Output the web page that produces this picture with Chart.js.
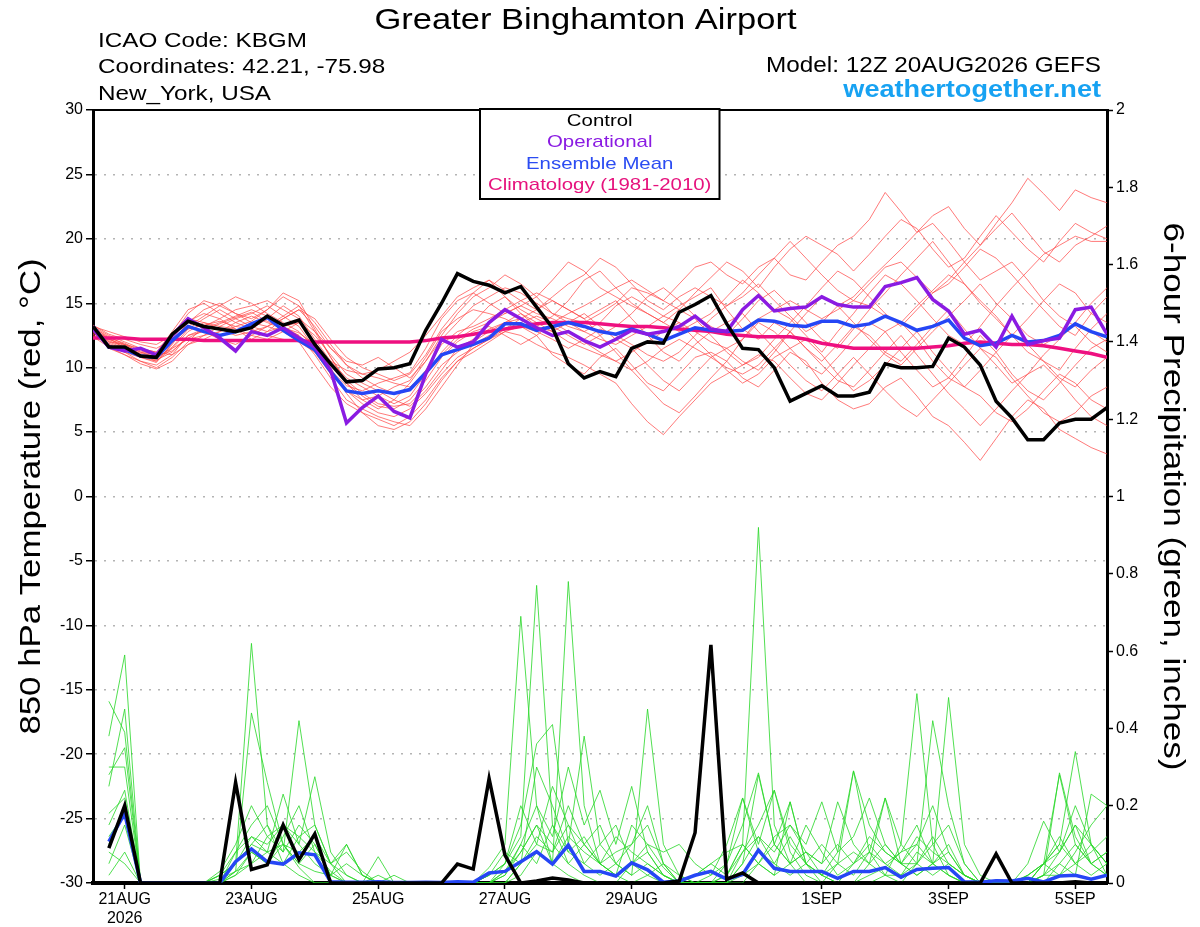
<!DOCTYPE html>
<html>
<head>
<meta charset="utf-8">
<title>Greater Binghamton Airport - GEFS</title>
<script src="https://cdn.jsdelivr.net/npm/chart.js@4.4.1/dist/chart.umd.min.js"></script>
<style>
    html, body { margin: 0; padding: 0; background: #fff; }
    #wrap { width: 1200px; height: 927px; }
</style>
</head>
<body>
<div id="wrap"><canvas id="gefsChart"></canvas></div>
<script>
// Forecast hours of the 12Z 20AUG2026 run, every 6h out to 384h
const hours = Array.from({ length: 65 }, (_, i) => i * 6);

// Date ticks (00Z of each labelled day)
const tickHours = [12, 60, 108, 156, 204, 276, 324, 372];
const tickLabels = [["21AUG", "2026"], "23AUG", "25AUG", "27AUG", "29AUG", "1SEP", "3SEP", "5SEP"];

// 850 hPa temperature (C)
const controlTemp = [
    13.2, 11.6, 11.6, 10.9, 10.8, 12.6, 13.6, 13.2, 13.0, 12.8, 13.1, 14.0, 13.3,
    13.7, 11.8, 10.3, 8.9, 9.0, 9.9, 10.0, 10.3, 12.9, 15.0, 17.3, 16.7, 16.4,
    15.8, 16.3, 14.7, 13.1, 10.3, 9.2, 9.7, 9.3, 11.5, 12.0, 11.9, 14.3, 14.9,
    15.6, 13.4, 11.5, 11.4, 10.0, 7.4, 8.0, 8.6, 7.8, 7.8, 8.1, 10.3, 10.0,
    10.0, 10.1, 12.3, 11.6, 10.2, 7.4, 6.1, 4.4, 4.4, 5.7, 6.0, 6.0, 6.9
];
const operationalTemp = [
    13.0, 11.6, 11.3, 11.5, 11.0, 12.5, 13.8, 13.1, 12.3, 11.3, 12.8, 12.5, 13.1,
    12.3, 11.6, 9.8, 5.7, 6.9, 7.8, 6.6, 6.1, 9.5, 12.2, 11.6, 12.0, 13.5,
    14.5, 13.8, 13.1, 12.5, 12.8, 12.1, 11.6, 12.2, 12.9, 12.6, 12.8, 13.2, 14.0,
    13.0, 12.8, 14.5, 15.6, 14.4, 14.6, 14.7, 15.5, 14.9, 14.7, 14.7, 16.3, 16.6,
    17.0, 15.3, 14.4, 12.6, 12.9, 11.6, 14.0, 11.8, 12.1, 12.3, 14.5, 14.7, 12.6
];
const meanTemp = [
    13.2, 11.6, 11.4, 10.9, 10.8, 12.1, 13.2, 12.8, 12.5, 12.8, 13.4, 13.9, 12.9,
    12.1, 11.4, 9.7, 8.2, 8.0, 8.2, 8.0, 8.3, 9.6, 11.0, 11.4, 11.8, 12.3,
    13.4, 13.4, 12.9, 13.2, 13.5, 13.2, 12.8, 12.6, 13.0, 12.6, 12.1, 12.6, 13.1,
    12.9, 12.8, 12.9, 13.7, 13.6, 13.3, 13.2, 13.6, 13.6, 13.2, 13.4, 14.0, 13.5,
    12.9, 13.2, 13.7, 12.3, 11.7, 11.9, 12.5, 12.0, 12.1, 12.5, 13.4, 12.8, 12.4
];
const climoTemp = [
    12.3, 12.3, 12.3, 12.2, 12.2, 12.2, 12.2, 12.1, 12.1, 12.1, 12.1, 12.1, 12.1,
    12.1, 12.0, 12.0, 12.0, 12.0, 12.0, 12.0, 12.0, 12.1, 12.3, 12.4, 12.6, 12.8,
    13.0, 13.2, 13.4, 13.5, 13.5, 13.5, 13.4, 13.3, 13.2, 13.2, 13.1, 13.0, 12.9,
    12.8, 12.6, 12.5, 12.4, 12.4, 12.4, 12.2, 11.9, 11.7, 11.5, 11.5, 11.5, 11.5,
    11.5, 11.6, 11.7, 11.9, 12.0, 11.9, 11.8, 11.8, 11.7, 11.5, 11.3, 11.1, 10.8
];

// Ensemble member temperatures
const mem01T = [
    13.0, 12.2, 11.8, 11.2, 11.0, 12.2, 13.8, 13.5, 13.2, 13.8, 14.2, 14.8, 14.0,
    13.2, 11.5, 9.8, 8.6, 8.2, 8.8, 9.2, 9.6, 11.5, 13.8, 15.2, 15.8, 15.0,
    14.2, 14.8, 15.5, 14.2, 13.8, 13.5, 14.2, 15.0, 16.2, 15.8, 15.2, 16.5, 17.8,
    18.2, 17.2, 16.5, 17.8, 18.5, 17.2, 16.8, 18.2, 19.5, 20.2, 21.5, 23.6, 22.1,
    20.5, 21.8, 22.5, 20.8, 19.5, 21.2, 22.8, 24.7, 23.5, 22.2, 23.8, 23.2, 22.8
];
const mem02T = [
    12.8, 11.5, 11.0, 10.5, 10.2, 11.0, 12.5, 12.8, 12.2, 11.8, 12.5, 13.2, 12.8,
    12.0, 10.2, 8.5, 7.2, 6.5, 6.0, 5.5, 6.2, 7.5, 9.2, 10.5, 11.2, 12.0,
    12.8, 13.2, 12.5, 11.0, 10.2, 9.5, 10.8, 11.5, 10.2, 8.8, 8.2, 9.5, 10.8,
    11.2, 10.5, 9.2, 8.5, 9.8, 11.2, 10.5, 8.8, 7.5, 6.8, 7.2, 8.5, 9.2,
    7.8, 6.2, 5.5, 4.2, 2.8, 4.5, 6.2, 7.5, 6.8, 5.2, 4.5, 3.8, 3.3
];
const mem03T = [
    13.2, 12.5, 12.0, 11.5, 11.2, 12.8, 14.5, 15.0, 14.2, 13.5, 13.0, 13.8, 14.8,
    14.0, 12.2, 10.5, 9.2, 8.5, 7.8, 7.2, 7.8, 9.5, 11.2, 12.5, 13.5, 14.8,
    15.5, 14.2, 13.2, 14.0, 15.2, 16.8, 17.5, 16.2, 15.0, 14.2, 13.5, 12.8, 13.5,
    14.2, 15.5, 16.8, 15.8, 14.5, 13.8, 12.5, 11.2, 12.8, 14.2, 15.8, 17.2, 16.5,
    15.2, 13.8, 12.5, 11.8, 13.2, 14.8, 16.2, 17.5, 18.8, 19.5, 20.2, 19.8, 19.8
];
const mem04T = [
    12.5, 11.8, 11.2, 10.8, 10.5, 11.5, 12.2, 12.5, 12.8, 13.5, 14.0, 13.5, 13.0,
    12.5, 11.0, 9.2, 7.5, 6.8, 6.2, 5.8, 5.5, 6.8, 8.5, 10.2, 11.8, 12.5,
    13.0, 13.8, 14.5, 15.2, 14.5, 13.8, 12.5, 11.2, 9.8, 8.5, 7.2, 6.5, 7.8,
    9.2, 10.5, 12.2, 13.5, 12.8, 11.5, 10.2, 9.5, 10.8, 12.2, 13.5, 12.8, 11.2,
    9.8, 8.5, 9.2, 10.8, 12.5, 11.2, 9.5, 8.2, 7.5, 8.8, 10.2, 11.5, 12.2
];
const mem05T = [
    13.0, 12.0, 11.5, 11.0, 10.5, 11.8, 13.5, 14.5, 15.0, 14.2, 13.5, 13.2, 13.8,
    14.5, 13.2, 11.5, 10.2, 9.5, 9.8, 10.5, 11.2, 12.5, 14.0, 15.5, 16.2, 16.8,
    15.5, 14.5, 13.8, 13.2, 12.5, 11.8, 12.5, 13.2, 14.2, 15.5, 16.2, 15.2, 14.0,
    13.2, 12.5, 13.8, 15.2, 16.0, 14.8, 13.5, 12.2, 11.5, 13.0, 14.5, 15.8, 17.2,
    18.5, 19.8, 18.2, 16.5, 15.2, 14.0, 12.5, 11.2, 10.5, 9.8, 11.5, 13.0, 14.2
];
const mem06T = [
    12.8, 12.0, 11.8, 11.5, 11.2, 11.0, 11.8, 12.5, 13.2, 13.0, 12.5, 12.2, 12.8,
    13.5, 12.5, 11.0, 9.5, 8.8, 8.2, 7.5, 7.0, 8.2, 9.8, 11.5, 12.2, 13.0,
    13.5, 13.8, 13.2, 12.8, 13.5, 14.2, 13.2, 12.2, 11.5, 10.2, 9.0, 8.2, 9.5,
    10.8, 11.5, 10.5, 9.8, 11.2, 12.8, 14.2, 15.5, 14.8, 13.5, 12.2, 11.0, 10.2,
    11.5, 12.8, 14.0, 15.2, 16.5, 15.0, 13.8, 12.5, 11.8, 12.5, 13.5, 12.8, 12.0
];
const mem07T = [
    13.3, 12.6, 12.2, 11.8, 11.5, 12.2, 13.2, 14.0, 14.8, 15.5, 15.0, 14.2, 13.5,
    12.8, 11.5, 9.8, 8.2, 7.2, 6.5, 6.2, 6.8, 8.0, 9.5, 10.8, 11.5, 12.2,
    12.8, 12.5, 11.8, 11.2, 10.8, 10.2, 9.5, 8.8, 7.2, 5.8, 4.8, 6.2, 7.5,
    8.8, 9.5, 10.2, 11.0, 10.5, 9.2, 8.0, 7.5, 8.8, 10.2, 11.5, 12.8, 13.5,
    12.2, 10.5, 9.2, 8.5, 7.8, 6.5, 5.8, 6.8, 8.2, 9.5, 8.8, 7.5, 6.8
];
const mem08T = [
    12.6, 11.8, 11.2, 10.5, 10.0, 10.8, 12.0, 13.2, 13.8, 14.5, 14.8, 15.2, 14.5,
    13.8, 12.8, 11.5, 10.5, 10.2, 10.8, 10.0, 9.2, 10.5, 12.5, 14.2, 15.5, 16.2,
    17.2, 16.5, 15.5, 16.8, 18.2, 17.5, 16.2, 15.5, 14.8, 14.2, 13.5, 14.5, 15.8,
    17.0, 18.2, 17.5, 16.2, 17.8, 19.2, 20.2, 19.5, 18.8, 17.5, 18.8, 20.2, 21.5,
    20.8, 19.2, 17.8, 18.5, 20.2, 21.8, 20.5, 19.2, 18.2, 19.8, 21.2, 20.5, 20.0
];
const mem09T = [
    13.1, 12.4, 11.8, 11.2, 10.8, 11.5, 12.8, 13.5, 13.0, 12.5, 12.8, 13.2, 14.0,
    14.8, 13.5, 11.8, 10.2, 9.2, 8.5, 8.0, 8.2, 9.8, 11.8, 12.8, 13.2, 13.8,
    14.5, 15.2, 15.8, 15.2, 14.5, 13.8, 14.5, 15.2, 13.8, 12.5, 11.2, 10.5, 11.8,
    12.8, 13.5, 14.2, 12.8, 11.5, 10.2, 9.0, 8.2, 9.5, 10.8, 9.5, 8.2, 7.0,
    6.2, 7.5, 8.8, 10.2, 11.5, 10.8, 9.2, 7.8, 6.5, 5.8, 6.5, 7.8, 8.5
];
const mem10T = [
    12.9, 12.3, 11.9, 11.3, 11.0, 12.0, 13.0, 13.8, 14.5, 13.8, 13.2, 12.8, 13.2,
    13.5, 12.0, 10.2, 8.8, 7.8, 7.0, 6.8, 7.5, 9.0, 10.8, 12.0, 12.8, 13.2,
    12.5, 11.8, 12.5, 13.5, 14.2, 14.8, 15.5, 16.2, 16.8, 16.0, 15.2, 14.5, 13.8,
    12.5, 11.2, 10.2, 10.8, 12.2, 13.5, 14.8, 16.2, 17.5, 16.8, 15.5, 14.2, 13.2,
    14.5, 15.8, 16.5, 17.8, 19.2, 18.5, 17.2, 15.8, 14.5, 13.2, 12.5, 14.2, 15.5
];
const mem11T = [
    12.7, 11.9, 11.4, 10.9, 10.6, 11.2, 12.5, 13.0, 13.5, 14.0, 14.5, 14.0, 13.2,
    12.5, 11.2, 9.5, 8.2, 7.5, 7.8, 8.5, 9.0, 10.8, 12.8, 13.8, 14.5, 14.2,
    13.8, 13.2, 12.8, 12.2, 11.5, 12.2, 13.0, 12.5, 11.8, 11.0, 10.5, 11.2, 12.5,
    13.8, 14.8, 15.5, 16.5, 15.2, 14.0, 12.8, 13.5, 14.8, 15.5, 16.8, 18.0, 19.2,
    20.5, 21.2, 19.8, 18.2, 16.8, 17.5, 18.2, 16.8, 15.2, 14.0, 13.2, 12.0, 11.2
];
const mem12T = [
    13.0, 12.1, 11.6, 11.0, 10.7, 11.6, 13.0, 13.3, 13.6, 13.2, 13.6, 14.5, 15.5,
    14.8, 12.8, 10.8, 9.0, 8.0, 7.2, 7.0, 7.2, 8.5, 10.2, 11.2, 12.0, 12.8,
    13.5, 14.2, 13.5, 12.8, 12.0, 11.5, 11.0, 10.5, 11.2, 12.0, 12.8, 13.5, 12.2,
    11.0, 9.8, 8.8, 9.5, 10.8, 11.5, 12.2, 11.0, 9.5, 8.2, 9.0, 10.2, 11.5,
    12.8, 11.2, 9.8, 8.5, 9.8, 11.2, 12.5, 11.8, 10.5, 9.2, 8.5, 9.8, 10.8
];
const mem13T = [
    12.4, 11.6, 11.0, 10.3, 9.9, 10.5, 11.8, 12.2, 12.8, 13.2, 13.0, 12.5, 12.2,
    12.0, 11.2, 10.5, 9.8, 9.5, 9.2, 8.8, 8.5, 9.5, 11.0, 12.2, 13.0, 13.5,
    14.2, 14.8, 14.2, 13.8, 13.2, 12.8, 12.2, 11.8, 12.5, 13.2, 14.0, 13.5, 12.8,
    12.0, 11.5, 12.2, 13.8, 14.5, 15.2, 14.5, 13.8, 14.5, 15.2, 14.8, 14.0, 13.5,
    14.8, 16.0, 17.2, 16.5, 15.0, 13.8, 12.5, 13.8, 15.2, 16.5, 15.8, 14.2, 13.5
];
const mem14T = [
    13.2, 12.8, 12.4, 12.0, 11.8, 12.5, 14.2, 15.2, 14.8, 14.2, 13.8, 14.5, 15.8,
    15.2, 13.0, 10.8, 8.8, 7.5, 6.8, 7.5, 8.8, 10.5, 12.2, 13.5, 14.8, 15.5,
    16.2, 15.8, 15.0, 14.2, 13.5, 12.8, 13.5, 14.8, 15.5, 14.8, 14.0, 14.8, 15.5,
    16.2, 14.5, 13.0, 12.2, 13.5, 12.8, 11.5, 10.5, 11.8, 13.2, 12.5, 11.2, 10.5,
    11.8, 13.2, 14.5, 13.0, 11.5, 10.2, 8.8, 9.5, 11.0, 12.2, 13.5, 15.0, 16.2
];
const mem15T = [
    12.9, 12.2, 11.7, 11.1, 10.9, 11.3, 12.3, 12.9, 13.4, 13.9, 14.3, 13.6, 13.1,
    12.7, 11.8, 10.0, 8.0, 6.5, 5.5, 5.2, 5.8, 7.2, 9.0, 10.5, 11.5, 12.2,
    13.0, 13.5, 14.0, 13.5, 12.8, 12.0, 11.2, 10.5, 9.8, 10.5, 11.5, 12.2, 11.5,
    10.8, 10.0, 9.5, 10.2, 11.5, 12.8, 11.5, 10.2, 9.0, 8.5, 9.8, 11.2, 12.5,
    11.0, 9.5, 8.0, 6.8, 5.5, 6.8, 8.2, 9.5, 10.2, 9.0, 7.5, 6.2, 5.5
];
const mem16T = [
    13.1, 12.3, 11.5, 10.8, 10.4, 11.9, 13.6, 14.2, 13.8, 13.0, 12.2, 12.8, 13.8,
    14.5, 13.8, 12.2, 10.8, 10.0, 9.5, 9.0, 9.5, 11.0, 13.0, 14.5, 15.8, 16.8,
    16.0, 15.2, 14.5, 15.5, 16.5, 17.2, 18.5, 17.8, 16.5, 15.2, 14.5, 15.5, 16.2,
    15.5, 14.8, 15.8, 17.2, 18.5, 19.8, 18.5, 17.2, 16.0, 15.2, 16.5, 17.8, 18.2,
    17.0, 15.8, 16.8, 18.2, 19.5, 20.8, 22.0, 20.5, 19.0, 18.2, 19.5, 20.2, 21.0
];
const tempMembers = [mem01T, mem02T, mem03T, mem04T, mem05T, mem06T, mem07T, mem08T,
    mem09T, mem10T, mem11T, mem12T, mem13T, mem14T, mem15T, mem16T];

// 6-hour precipitation (inches), no value at the analysis time
const controlPrecip = [
    null, 0.09, 0.20, 0, 0, 0, 0, 0, 0, 0.26, 0.035, 0.047, 0.15,
    0.06, 0.127, 0, 0, 0, 0, 0, 0, 0, 0, 0.049, 0.036, 0.27,
    0.072, 0, 0.005, 0.013, 0.008, 0, 0, 0, 0, 0, 0, 0.005, 0.13,
    0.616, 0.01, 0.026, 0, 0, 0, 0, 0, 0, 0, 0, 0, 0,
    0, 0, 0, 0, 0, 0.075, 0, 0, 0, 0, 0.003, 0, 0
];
const meanPrecip = [
    null, 0.107, 0.18, 0, 0, 0, 0, 0, 0, 0.055, 0.088, 0.055, 0.049,
    0.078, 0.073, 0.003, 0.002, 0.002, 0.003, 0.001, 0.001, 0.002, 0.001, 0.003, 0.002, 0.026,
    0.03, 0.055, 0.081, 0.049, 0.098, 0.03, 0.03, 0.018, 0.052, 0.034, 0.002, 0.005, 0.02,
    0.03, 0.01, 0.022, 0.085, 0.038, 0.03, 0.03, 0.03, 0.012, 0.03, 0.03, 0.04, 0.015,
    0.035, 0.038, 0.04, 0.003, 0.002, 0.006, 0.005, 0.012, 0.003, 0.018, 0.02, 0.01, 0.02
];

// Ensemble member precipitation
const mem01P = [
    null, 0.38, 0.59, 0, 0, 0, 0, 0, 0.02, 0.05, 0.62, 0.15, 0.05,
    0.02, 0, 0, 0, 0, 0, 0, 0, 0, 0, 0, 0, 0.04,
    0.10, 0.69, 0.20, 0.05, 0.02, 0, 0, 0, 0, 0, 0, 0, 0.02,
    0.05, 0.08, 0.10, 0.92, 0.15, 0.05, 0, 0, 0, 0, 0.02, 0.04, 0.08,
    0.10, 0.05, 0.02, 0, 0, 0, 0, 0.02, 0.05, 0.10, 0.34, 0.10, 0.02
];
const mem02P = [
    null, 0.47, 0.39, 0, 0, 0, 0, 0, 0, 0.03, 0.44, 0.26, 0.10,
    0.04, 0, 0, 0, 0, 0.02, 0, 0, 0, 0, 0, 0, 0.02,
    0.05, 0.12, 0.77, 0.15, 0.05, 0.02, 0, 0, 0.05, 0.10, 0.04, 0, 0,
    0, 0, 0.05, 0.28, 0.10, 0.21, 0.05, 0, 0, 0, 0, 0.02, 0.10,
    0.49, 0.10, 0.02, 0, 0, 0, 0, 0, 0.02, 0.08, 0.15, 0.05, 0.02
];
const mem03P = [
    null, 0.30, 0.30, 0, 0, 0, 0, 0, 0.02, 0.08, 0.12, 0.08, 0.23,
    0.10, 0.05, 0.02, 0.10, 0.02, 0, 0, 0, 0, 0, 0, 0, 0,
    0.03, 0.08, 0.15, 0.05, 0.78, 0.20, 0.05, 0.02, 0, 0.02, 0.05, 0.02, 0,
    0, 0.05, 0.22, 0.10, 0.24, 0.08, 0.02, 0, 0.05, 0.29, 0.08, 0.02, 0,
    0.05, 0.42, 0.20, 0.05, 0, 0, 0, 0.02, 0.05, 0.28, 0.10, 0.05, 0.08
];
const mem04P = [
    null, 0.15, 0.24, 0, 0, 0, 0, 0, 0, 0.05, 0.10, 0.15, 0.08,
    0.42, 0.15, 0.05, 0, 0, 0, 0, 0, 0, 0, 0, 0, 0.02,
    0.05, 0.15, 0.36, 0.41, 0.10, 0.38, 0.10, 0.05, 0.02, 0.45, 0.10, 0.02, 0,
    0, 0.02, 0.10, 0.05, 0.02, 0.21, 0.05, 0.02, 0, 0, 0.05, 0.10, 0.05,
    0.02, 0.05, 0.48, 0.10, 0.02, 0, 0, 0, 0.02, 0.05, 0.02, 0.23, 0.20
];
const mem05P = [
    null, 0.10, 0.20, 0, 0, 0, 0, 0, 0.03, 0.10, 0.20, 0.12, 0.15,
    0.10, 0.275, 0.08, 0.02, 0, 0, 0, 0, 0, 0, 0, 0, 0,
    0.02, 0.10, 0.20, 0.12, 0.30, 0.15, 0.24, 0.10, 0.25, 0.08, 0.02, 0, 0,
    0, 0, 0.05, 0.12, 0.08, 0.15, 0.10, 0.21, 0.08, 0.12, 0.22, 0.10, 0.05,
    0.10, 0.20, 0.08, 0.02, 0, 0, 0, 0, 0.05, 0.10, 0.05, 0.08, 0.12
];
const mem06P = [
    null, 0.05, 0.15, 0, 0, 0, 0, 0, 0, 0.08, 0.15, 0.20, 0.10,
    0.05, 0.10, 0.02, 0, 0, 0.068, 0, 0, 0, 0, 0, 0, 0,
    0.05, 0.20, 0.10, 0.25, 0.15, 0.10, 0.05, 0.08, 0.10, 0.20, 0.05, 0, 0,
    0.02, 0.05, 0.15, 0.285, 0.10, 0.05, 0.08, 0.05, 0.21, 0.10, 0.05, 0.02, 0.02,
    0.05, 0.10, 0.15, 0.05, 0, 0, 0, 0.05, 0.16, 0.08, 0.15, 0.10, 0.05
];
const mem07P = [
    null, 0.25, 0.45, 0, 0, 0, 0, 0, 0, 0.02, 0.08, 0.05, 0.12,
    0.20, 0.08, 0.05, 0.10, 0.02, 0, 0, 0, 0, 0, 0, 0, 0,
    0, 0.05, 0.30, 0.20, 0.08, 0.12, 0.05, 0.02, 0.15, 0.10, 0.08, 0.10, 0.05,
    0.02, 0.10, 0.22, 0.08, 0.05, 0.12, 0.05, 0.02, 0.08, 0.29, 0.15, 0.08, 0.05,
    0.12, 0.08, 0.05, 0.02, 0, 0, 0, 0, 0.02, 0.285, 0.12, 0.05, 0.02
];
const mem08P = [
    null, 0.08, 0.05, 0, 0, 0, 0, 0, 0.02, 0.05, 0.10, 0.08, 0.05,
    0.12, 0.15, 0.05, 0.02, 0, 0, 0, 0, 0, 0, 0, 0, 0.02,
    0.08, 0.05, 0.12, 0.08, 0.20, 0.10, 0.05, 0.12, 0.08, 0.05, 0.02, 0, 0,
    0, 0, 0.08, 0.15, 0.24, 0.10, 0.05, 0.02, 0.05, 0.08, 0.05, 0.22, 0.10,
    0.05, 0.02, 0.05, 0.02, 0, 0, 0, 0.02, 0.05, 0.02, 0.08, 0.15, 0.20
];
const mem09P = [
    null, 0.12, 0.18, 0, 0, 0, 0, 0, 0, 0.05, 0.12, 0.10, 0.15,
    0.12, 0.08, 0.03, 0, 0, 0, 0, 0, 0, 0, 0, 0, 0,
    0.02, 0.08, 0.15, 0.10, 0.05, 0.10, 0.15, 0.05, 0.02, 0.05, 0.02, 0, 0,
    0, 0, 0.02, 0.05, 0.10, 0.05, 0.15, 0.08, 0.02, 0.05, 0.10, 0.05, 0.08,
    0.15, 0.05, 0.02, 0, 0, 0, 0, 0, 0, 0.05, 0.10, 0.05, 0.08
];
const mem10P = [
    null, 0.02, 0.08, 0, 0, 0, 0, 0, 0, 0.02, 0.05, 0.08, 0.10,
    0.05, 0.03, 0.02, 0, 0, 0, 0, 0, 0, 0, 0, 0, 0,
    0, 0.02, 0.08, 0.05, 0.12, 0.08, 0.05, 0.02, 0.05, 0.08, 0.02, 0, 0,
    0, 0, 0, 0.05, 0.02, 0.05, 0.08, 0.02, 0, 0.05, 0.08, 0.22, 0.05,
    0.02, 0.05, 0.08, 0.02, 0, 0, 0, 0, 0.02, 0.02, 0.05, 0.10, 0.05
];
const mem11P = [
    null, 0.18, 0.22, 0, 0, 0, 0, 0, 0.01, 0.03, 0.05, 0.12, 0.08,
    0.15, 0.10, 0.02, 0.05, 0.02, 0, 0.02, 0, 0, 0, 0, 0, 0,
    0.03, 0.10, 0.05, 0.15, 0.08, 0.05, 0.10, 0.15, 0.05, 0.02, 0, 0, 0.02,
    0.05, 0.02, 0.08, 0.12, 0.05, 0.02, 0.05, 0.10, 0.05, 0.02, 0.08, 0.05, 0.02,
    0.08, 0.05, 0.10, 0.02, 0, 0, 0, 0, 0.05, 0.12, 0.05, 0.02, 0.05
];
const mem12P = [
    null, 0.28, 0.35, 0, 0, 0, 0, 0, 0, 0.03, 0.08, 0.05, 0.10,
    0.08, 0.12, 0.05, 0.08, 0.03, 0, 0, 0, 0, 0, 0, 0, 0,
    0, 0.05, 0.10, 0.08, 0.15, 0.05, 0.02, 0.05, 0.10, 0.15, 0.05, 0, 0,
    0, 0.02, 0.10, 0.05, 0.12, 0.15, 0.08, 0.05, 0.10, 0.05, 0.12, 0.08, 0.05,
    0.05, 0.12, 0.05, 0.02, 0, 0, 0, 0, 0.05, 0.08, 0.20, 0.10, 0.05
];
const precipMembers = [mem01P, mem02P, mem03P, mem04P, mem05P, mem06P,
    mem07P, mem08P, mem09P, mem10P, mem11P, mem12P];

const FONT = "'Liberation Sans', Arial, Helvetica, sans-serif";
Chart.defaults.font.family = FONT;
Chart.defaults.color = "#000";

function toPoints(vals) {
    return vals.map((v, i) => ({ x: hours[i], y: v }));
}

function series(vals, color, width, axis) {
    return {
        data: toPoints(vals),
        borderColor: color,
        borderWidth: width,
        yAxisID: axis,
        pointRadius: 0,
        tension: 0,
        fill: false,
    };
}

// first dataset is drawn on top
const datasets = [
    series(controlTemp, "#000000", 3.5, "y"),
    series(operationalTemp, "#8a1be2", 3.5, "y"),
    series(meanTemp, "#2546f5", 3.5, "y"),
    series(climoTemp, "#ee1080", 3.5, "y"),
    series(controlPrecip, "#000000", 3.5, "yP"),
    series(meanPrecip, "#2546f5", 3.5, "yP"),
];
precipMembers.forEach((m) => datasets.push(series(m, "rgba(40, 215, 40, 0.9)", 0.9, "yP")));
tempMembers.forEach((m) => datasets.push(series(m, "rgba(255, 70, 70, 0.8)", 0.9, "y")));

// Text helper, with a horizontal stretch to mimic the original lettering
function drawText(ctx, text, x, y, opts) {
    ctx.save();
    ctx.font = (opts.bold ? "bold " : "") + opts.size + "px " + FONT;
    ctx.fillStyle = opts.color || "#000";
    ctx.textAlign = opts.align || "left";
    ctx.textBaseline = opts.baseline || "alphabetic";
    ctx.translate(x, y);
    if (opts.rotate) ctx.rotate(opts.rotate);
    ctx.scale(opts.stretch || 1, 1);
    ctx.fillText(text, 0, 0);
    ctx.restore();
}

const decorPlugin = {
    id: "decor",
    afterDraw(chart) {
        const ctx = chart.ctx;
        const area = chart.chartArea;

        // frame line along the top of the plot
        ctx.save();
        ctx.strokeStyle = "#000";
        ctx.lineWidth = 2;
        ctx.beginPath();
        ctx.moveTo(area.left, area.top);
        ctx.lineTo(area.right, area.top);
        ctx.stroke();
        ctx.restore();

        // header
        drawText(ctx, "Greater Binghamton Airport", 585.5, 28.5, { size: 29, align: "center", stretch: 1.19 });
        drawText(ctx, "ICAO Code: KBGM", 98, 46.5, { size: 21, stretch: 1.155 });
        drawText(ctx, "Coordinates: 42.21, -75.98", 98, 73.3, { size: 21, stretch: 1.155 });
        drawText(ctx, "New_York, USA", 98, 100, { size: 21, stretch: 1.155 });
        drawText(ctx, "Model: 12Z 20AUG2026 GEFS", 1101, 71.5, { size: 22.5, align: "right", stretch: 1.08 });
        drawText(ctx, "weathertogether.net", 1101, 97.3, { size: 24, bold: true, align: "right", stretch: 1.13, color: "#17a2f2" });

        // axis titles
        const midY = (area.top + area.bottom) / 2;
        drawText(ctx, "850 hPa Temperature (red, \u00B0C)", 32, midY, {
            size: 29, align: "center", baseline: "middle", rotate: -Math.PI / 2, stretch: 1.2,
        });
        drawText(ctx, "6-hour Precipitation (green, inches)", 1172, midY, {
            size: 29, align: "center", baseline: "middle", rotate: Math.PI / 2, stretch: 1.21,
        });

        // legend box
        ctx.save();
        ctx.fillStyle = "#fff";
        ctx.fillRect(480, 109, 239.5, 90);
        ctx.strokeStyle = "#000";
        ctx.lineWidth = 2;
        ctx.strokeRect(480, 109, 239.5, 90);
        ctx.restore();
        const lx = 599.7;
        const legendOpts = { size: 17, align: "center", baseline: "middle", stretch: 1.2 };
        drawText(ctx, "Control", lx, 121, Object.assign({ color: "#000" }, legendOpts));
        drawText(ctx, "Operational", lx, 142.5, Object.assign({ color: "#8a1be2" }, legendOpts));
        drawText(ctx, "Ensemble Mean", lx, 164, Object.assign({ color: "#2b4cf2" }, legendOpts));
        drawText(ctx, "Climatology (1981-2010)", lx, 185.7, Object.assign({ color: "#e6127d" }, legendOpts));
    },
};

const ctx = document.getElementById("gefsChart").getContext("2d");
const gefsChart = new Chart(ctx, {
    type: "line",
    data: { datasets: datasets },
    plugins: [decorPlugin],
    options: {
        responsive: true,
        maintainAspectRatio: false,
        animation: false,
        devicePixelRatio: 1,
        layout: {
            padding: { top: 110, left: 0, right: 0, bottom: 0 },
            autoPadding: false,
        },
        plugins: {
            legend: { display: false },
            tooltip: { enabled: false },
        },
        scales: {
            x: {
                type: "linear",
                min: 0,
                max: 384,
                afterBuildTicks: (scale) => {
                    scale.ticks = tickHours.map((v) => ({ value: v }));
                },
                afterFit: (scale) => {
                    scale.height = 44;
                },
                ticks: {
                    autoSkip: false,
                    maxRotation: 0,
                    padding: 1,
                    font: { size: 16 },
                    callback: (value, index) => tickLabels[index],
                },
                grid: {
                    drawOnChartArea: false,
                    tickLength: 6,
                    tickColor: "#000",
                    tickWidth: 1.5,
                },
                border: { color: "#000", width: 4 },
            },
            y: {
                position: "left",
                min: -30,
                max: 30,
                afterFit: (scale) => {
                    scale.width = 93;
                },
                ticks: {
                    stepSize: 5,
                    padding: 3,
                    font: { size: 16 },
                },
                grid: {
                    color: "#b4b4b4",
                    lineWidth: 1.5,
                    tickColor: "#000",
                    tickLength: 7,
                    tickWidth: 1.5,
                },
                border: { color: "#000", width: 3, dash: [2, 7] },
            },
            yP: {
                position: "right",
                min: 0,
                max: 2,
                afterFit: (scale) => {
                    scale.width = 93;
                },
                ticks: {
                    stepSize: 0.2,
                    padding: 3,
                    font: { size: 16 },
                    callback: (value) => String(+value.toFixed(1)),
                },
                grid: {
                    drawOnChartArea: false,
                    tickColor: "#000",
                    tickLength: 6,
                    tickWidth: 1.5,
                },
                border: { color: "#000", width: 3 },
            },
        },
    },
});
</script>
</body>
</html>
